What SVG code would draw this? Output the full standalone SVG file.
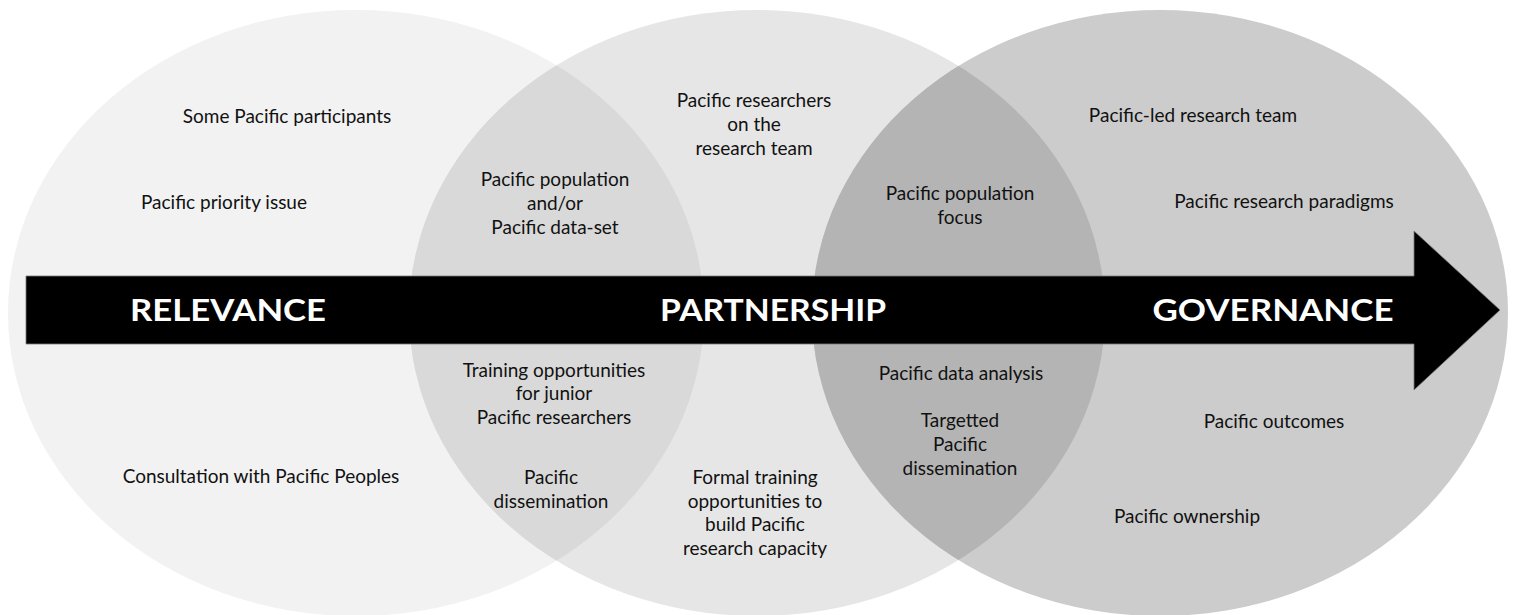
<svg xmlns="http://www.w3.org/2000/svg" width="1518" height="615" viewBox="0 0 1518 615">
  <style>
    .lbl { font-family: Lato, "Open Sans", "Liberation Sans", sans-serif; font-size: 19px; fill: #111; text-anchor: middle; }
    .stage { font-family: Lato, "Open Sans", "Liberation Sans", sans-serif; font-size: 30px; font-weight: bold; fill: #fff; text-anchor: middle; }
  </style>
  <defs>
    <clipPath id="clip-relevance"><ellipse cx="356" cy="313" rx="348" ry="303"/></clipPath>
    <clipPath id="clip-governance"><ellipse cx="1160" cy="313" rx="348" ry="303"/></clipPath>
  </defs>

  <rect width="1518" height="615" fill="#fff"/>

  <!-- the three overlapping circles -->
  <g id="relevance-circle">
    <ellipse cx="356" cy="313" rx="348" ry="303" fill="#f2f2f2"/>
  </g>
  <g id="partnership-circle">
    <ellipse cx="757" cy="313" rx="348" ry="303" fill="#e6e6e6"/>
  </g>
  <g id="governance-circle">
    <ellipse cx="1160" cy="313" rx="348" ry="303" fill="#cccccc"/>
  </g>
  <g id="overlap-relevance-partnership">
    <ellipse cx="757" cy="313" rx="348" ry="303" fill="#d9d9d9" clip-path="url(#clip-relevance)"/>
  </g>
  <g id="overlap-partnership-governance">
    <ellipse cx="757" cy="313" rx="348" ry="303" fill="#b4b4b4" clip-path="url(#clip-governance)"/>
  </g>

  <!-- progression arrow -->
  <g id="connectors">
    <polygon points="26,276 1414,276 1414,231 1500,310 1414,390 1414,344 26,344" fill="#000" stroke="#7a7a7a" stroke-width="0.8"/>
  </g>

  <g id="stage-relevance">
    <text class="stage" x="228" y="321" textLength="196" lengthAdjust="spacingAndGlyphs">RELEVANCE</text>
  </g>
  <g id="stage-partnership">
    <text class="stage" x="773" y="321" textLength="226" lengthAdjust="spacingAndGlyphs">PARTNERSHIP</text>
  </g>
  <g id="stage-governance">
    <text class="stage" x="1273" y="321" textLength="241" lengthAdjust="spacingAndGlyphs">GOVERNANCE</text>
  </g>

  <!-- relevance items -->
  <g id="some-participants"><text class="lbl" x="287" y="123">Some Pacific participants</text></g>
  <g id="priority-issue"><text class="lbl" x="224" y="209">Pacific priority issue</text></g>
  <g id="consultation"><text class="lbl" x="261" y="483">Consultation with Pacific Peoples</text></g>

  <!-- relevance / partnership overlap -->
  <g id="population-dataset">
    <text class="lbl" x="555" y="186">Pacific population</text>
    <text class="lbl" x="555" y="210">and/or</text>
    <text class="lbl" x="555" y="234">Pacific data-set</text>
  </g>
  <g id="junior-training">
    <text class="lbl" x="554" y="377">Training opportunities</text>
    <text class="lbl" x="554" y="400">for junior</text>
    <text class="lbl" x="554" y="424">Pacific researchers</text>
  </g>
  <g id="dissemination">
    <text class="lbl" x="551" y="484">Pacific</text>
    <text class="lbl" x="551" y="508">dissemination</text>
  </g>

  <!-- partnership items -->
  <g id="researchers-on-team">
    <text class="lbl" x="754" y="107">Pacific researchers</text>
    <text class="lbl" x="754" y="131">on the</text>
    <text class="lbl" x="754" y="155">research team</text>
  </g>
  <g id="formal-training">
    <text class="lbl" x="755" y="484">Formal training</text>
    <text class="lbl" x="755" y="508">opportunities to</text>
    <text class="lbl" x="755" y="531">build Pacific</text>
    <text class="lbl" x="755" y="555">research capacity</text>
  </g>

  <!-- partnership / governance overlap -->
  <g id="population-focus">
    <text class="lbl" x="960" y="200">Pacific population</text>
    <text class="lbl" x="960" y="224">focus</text>
  </g>
  <g id="data-analysis"><text class="lbl" x="961" y="380">Pacific data analysis</text></g>
  <g id="targetted-dissemination">
    <text class="lbl" x="960" y="427">Targetted</text>
    <text class="lbl" x="960" y="451">Pacific</text>
    <text class="lbl" x="960" y="475">dissemination</text>
  </g>

  <!-- governance items -->
  <g id="pacific-led-team"><text class="lbl" x="1193" y="122">Pacific-led research team</text></g>
  <g id="research-paradigms"><text class="lbl" x="1284" y="208">Pacific research paradigms</text></g>
  <g id="outcomes"><text class="lbl" x="1274" y="428">Pacific outcomes</text></g>
  <g id="ownership"><text class="lbl" x="1187" y="523">Pacific ownership</text></g>
</svg>
